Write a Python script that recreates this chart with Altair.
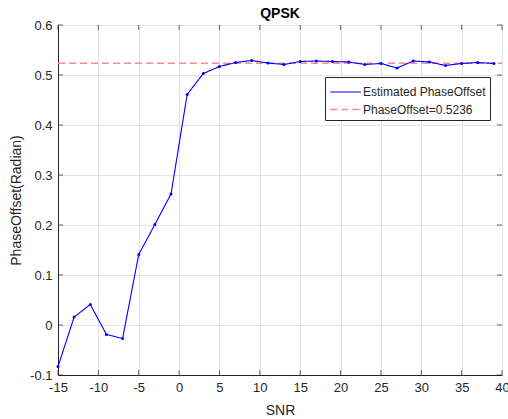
import altair as alt
import pandas as pd

# SNR sweep (dB) and the estimated phase offset at each point
snr = [-15, -13, -11, -9, -7, -5, -3, -1, 1, 3, 5, 7, 9, 11, 13, 15, 17, 19,
       21, 23, 25, 27, 29, 31, 33, 35, 37, 39]
est_offset = [-0.083, 0.016, 0.041, -0.019, -0.027, 0.141, 0.201, 0.262,
              0.461, 0.503, 0.517, 0.525, 0.529, 0.524, 0.521, 0.527, 0.528,
              0.527, 0.526, 0.521, 0.523, 0.514, 0.528, 0.526, 0.519, 0.523,
              0.525, 0.523]

true_offset = 0.5236
ref_x = [-15, 40]

est_name = "Estimated PhaseOffset"
ref_name = "PhaseOffset=0.5236"

x_ticks = list(range(-15, 41, 5))
y_ticks = [-0.1, 0.0, 0.1, 0.2, 0.3, 0.4, 0.5, 0.6]

est_df = pd.DataFrame({"SNR": snr, "value": est_offset, "series": est_name})
ref_df = pd.DataFrame({"SNR": ref_x, "value": [true_offset] * len(ref_x),
                       "series": ref_name})
df = pd.concat([ref_df, est_df], ignore_index=True)

font = "Liberation Sans"
ink = "#262626"
minus_fix = "replace(datum.label, '\u2212', '-')"

x_enc = alt.X(
    "SNR:Q",
    scale=alt.Scale(domain=[-15, 40], nice=False, zero=False),
    axis=alt.Axis(values=x_ticks, title="SNR", format="d", labelExpr=minus_fix,
                  grid=True, gridColor="#e3e3e3", tickSize=0, labelPadding=6,
                  domainColor=ink, labelColor=ink, titleColor=ink,
                  labelFontSize=13, titleFontSize=14, labelFont=font,
                  titleFont=font, titleFontWeight="normal", titlePadding=9,
                  labelFlush=False),
)
y_enc = alt.Y(
    "value:Q",
    scale=alt.Scale(domain=[-0.1, 0.6], nice=False, zero=False),
    axis=alt.Axis(values=y_ticks, title="PhaseOffset(Radian)", format=".1~f",
                  labelExpr=minus_fix, grid=True, gridColor="#e3e3e3",
                  tickSize=0, labelPadding=6, domainColor=ink, labelColor=ink,
                  titleColor=ink, labelFontSize=13, titleFontSize=14,
                  labelFont=font, titleFont=font, titleFontWeight="normal",
                  titlePadding=6),
)

color_scale = alt.Scale(domain=[est_name, ref_name], range=["#0000ff", "#ff8c8c"])
dash_scale = alt.Scale(domain=[est_name, ref_name], range=[[1, 0], [7, 4]])
width_scale = alt.Scale(domain=[est_name, ref_name], range=[1.1, 1.6])

lines = alt.Chart(df).mark_line().encode(
    x=x_enc,
    y=y_enc,
    color=alt.Color("series:N", scale=color_scale, sort=[est_name, ref_name],
                    legend=alt.Legend(
                        title=None, orient="none", legendX=267, legendY=52,
                        fillColor="white", strokeColor=ink,
                        padding=4, symbolType="M-1,0H2", symbolSize=420,
                        symbolStrokeWidth=1.5, labelFont=font,
                        labelFontSize=12, labelColor=ink, labelOffset=11,
                        rowPadding=0, labelLimit=300)),
    strokeDash=alt.StrokeDash("series:N", scale=dash_scale,
                              sort=[est_name, ref_name], legend=None),
    strokeWidth=alt.StrokeWidth("series:N", scale=width_scale,
                                sort=[est_name, ref_name], legend=None),
)

points = alt.Chart(est_df).mark_point(filled=True, size=9, color="#0000ff",
                                      opacity=1).encode(
    x="SNR:Q", y="value:Q"
)

# inward tick marks along the four sides of the box
tick_x_df = pd.DataFrame({"SNR": x_ticks})
tick_y_df = pd.DataFrame({"value": y_ticks})
tick_len = 5
xt_bottom = alt.Chart(tick_x_df).mark_tick(
    orient="vertical", size=tick_len, color=ink, thickness=1,
    yOffset=-tick_len / 2).encode(x="SNR:Q", y=alt.value(350))
xt_top = alt.Chart(tick_x_df).mark_tick(
    orient="vertical", size=tick_len, color=ink, thickness=1,
    yOffset=tick_len / 2).encode(x="SNR:Q", y=alt.value(0))
yt_left = alt.Chart(tick_y_df).mark_tick(
    orient="horizontal", size=tick_len, color=ink, thickness=1,
    xOffset=tick_len / 2).encode(y="value:Q", x=alt.value(0))
yt_right = alt.Chart(tick_y_df).mark_tick(
    orient="horizontal", size=tick_len, color=ink, thickness=1,
    xOffset=-tick_len / 2).encode(y="value:Q", x=alt.value(444))

chart = alt.layer(
    lines, points, xt_bottom, xt_top, yt_left, yt_right
).properties(
    width=444,
    height=350,
    title=alt.Title("QPSK", font=font, fontSize=14, fontWeight="bold",
                    color="black", anchor="middle", offset=-2),
    autosize="none",
    padding={"left": 58, "top": 25, "right": 6, "bottom": 44},
).configure_view(
    stroke=ink, strokeWidth=1
).configure(background="white")

chart.save("out.html", embed_options={"renderer": "svg", "actions": False})
